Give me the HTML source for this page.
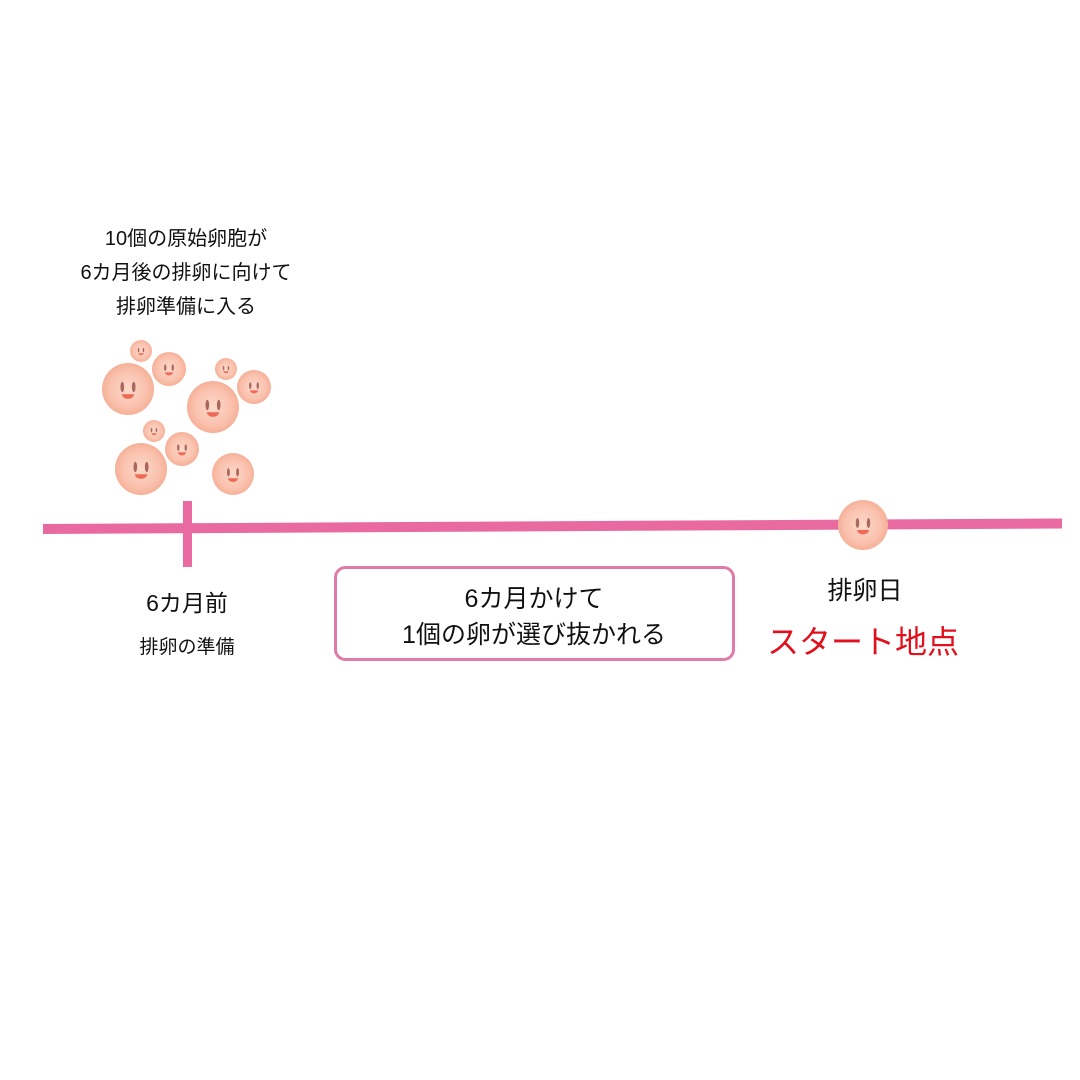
<!DOCTYPE html>
<html><head><meta charset="utf-8"><style>
html,body{margin:0;padding:0;background:#fff;}
svg{display:block;}
text{font-family:"Liberation Sans","Noto Sans CJK JP",sans-serif;fill:#111;}
</style></head><body>
<svg width="1080" height="1080" viewBox="0 0 1080 1080" xmlns="http://www.w3.org/2000/svg">
<defs>
<radialGradient id="g" cx="0.5" cy="0.5" r="0.5">
<stop offset="0" stop-color="#fcd8ca"/>
<stop offset="0.7" stop-color="#fac2ae"/>
<stop offset="1" stop-color="#f6b098"/>
</radialGradient>
<g id="f">
<circle cx="0" cy="0" r="1" fill="url(#g)"/>
<ellipse cx="-0.22" cy="-0.08" rx="0.07" ry="0.2" fill="#a8685e"/>
<ellipse cx="0.22" cy="-0.08" rx="0.07" ry="0.2" fill="#a8685e"/>
<path d="M-0.24,0.2 L0.24,0.2 Q0.22,0.36 0,0.38 Q-0.22,0.36 -0.24,0.2Z" fill="#ee6a55"/>
</g>
</defs>
<text x="186" y="245" font-size="20" text-anchor="middle">10個の原始卵胞が</text>
<text x="186" y="279" font-size="20" text-anchor="middle">6カ月後の排卵に向けて</text>
<text x="186" y="313" font-size="20" text-anchor="middle">排卵準備に入る</text>
<use href="#f" transform="translate(141,351) scale(11)"/>
<use href="#f" transform="translate(169,369) scale(17)"/>
<use href="#f" transform="translate(128,389) scale(26)"/>
<use href="#f" transform="translate(226,369) scale(11)"/>
<use href="#f" transform="translate(254,387) scale(17)"/>
<use href="#f" transform="translate(213,407) scale(26)"/>
<use href="#f" transform="translate(154,431) scale(11)"/>
<use href="#f" transform="translate(182,449) scale(17)"/>
<use href="#f" transform="translate(141,469) scale(26)"/>
<use href="#f" transform="translate(233,474) scale(21)"/>
<polygon points="43,524 1062,518.5 1062,528.5 43,534" fill="#e86aa0"/>
<rect x="183" y="501" width="9" height="66" fill="#e86aa0"/>
<use href="#f" transform="translate(863,525) scale(25)"/>
<text x="187" y="611" font-size="23" text-anchor="middle">6カ月前</text>
<text x="187" y="653" font-size="19" text-anchor="middle">排卵の準備</text>
<rect x="335.5" y="567.5" width="398" height="92" rx="10" fill="none" stroke="#e07aa8" stroke-width="3"/>
<text x="534" y="607" font-size="25" text-anchor="middle">6カ月かけて</text>
<text x="534" y="643" font-size="25" text-anchor="middle">1個の卵が選び抜かれる</text>
<text x="865" y="599" font-size="25" text-anchor="middle">排卵日</text>
<text x="863" y="653" font-size="32" text-anchor="middle" style="fill:#e0101c">スタート地点</text>
</svg>
</body></html>
